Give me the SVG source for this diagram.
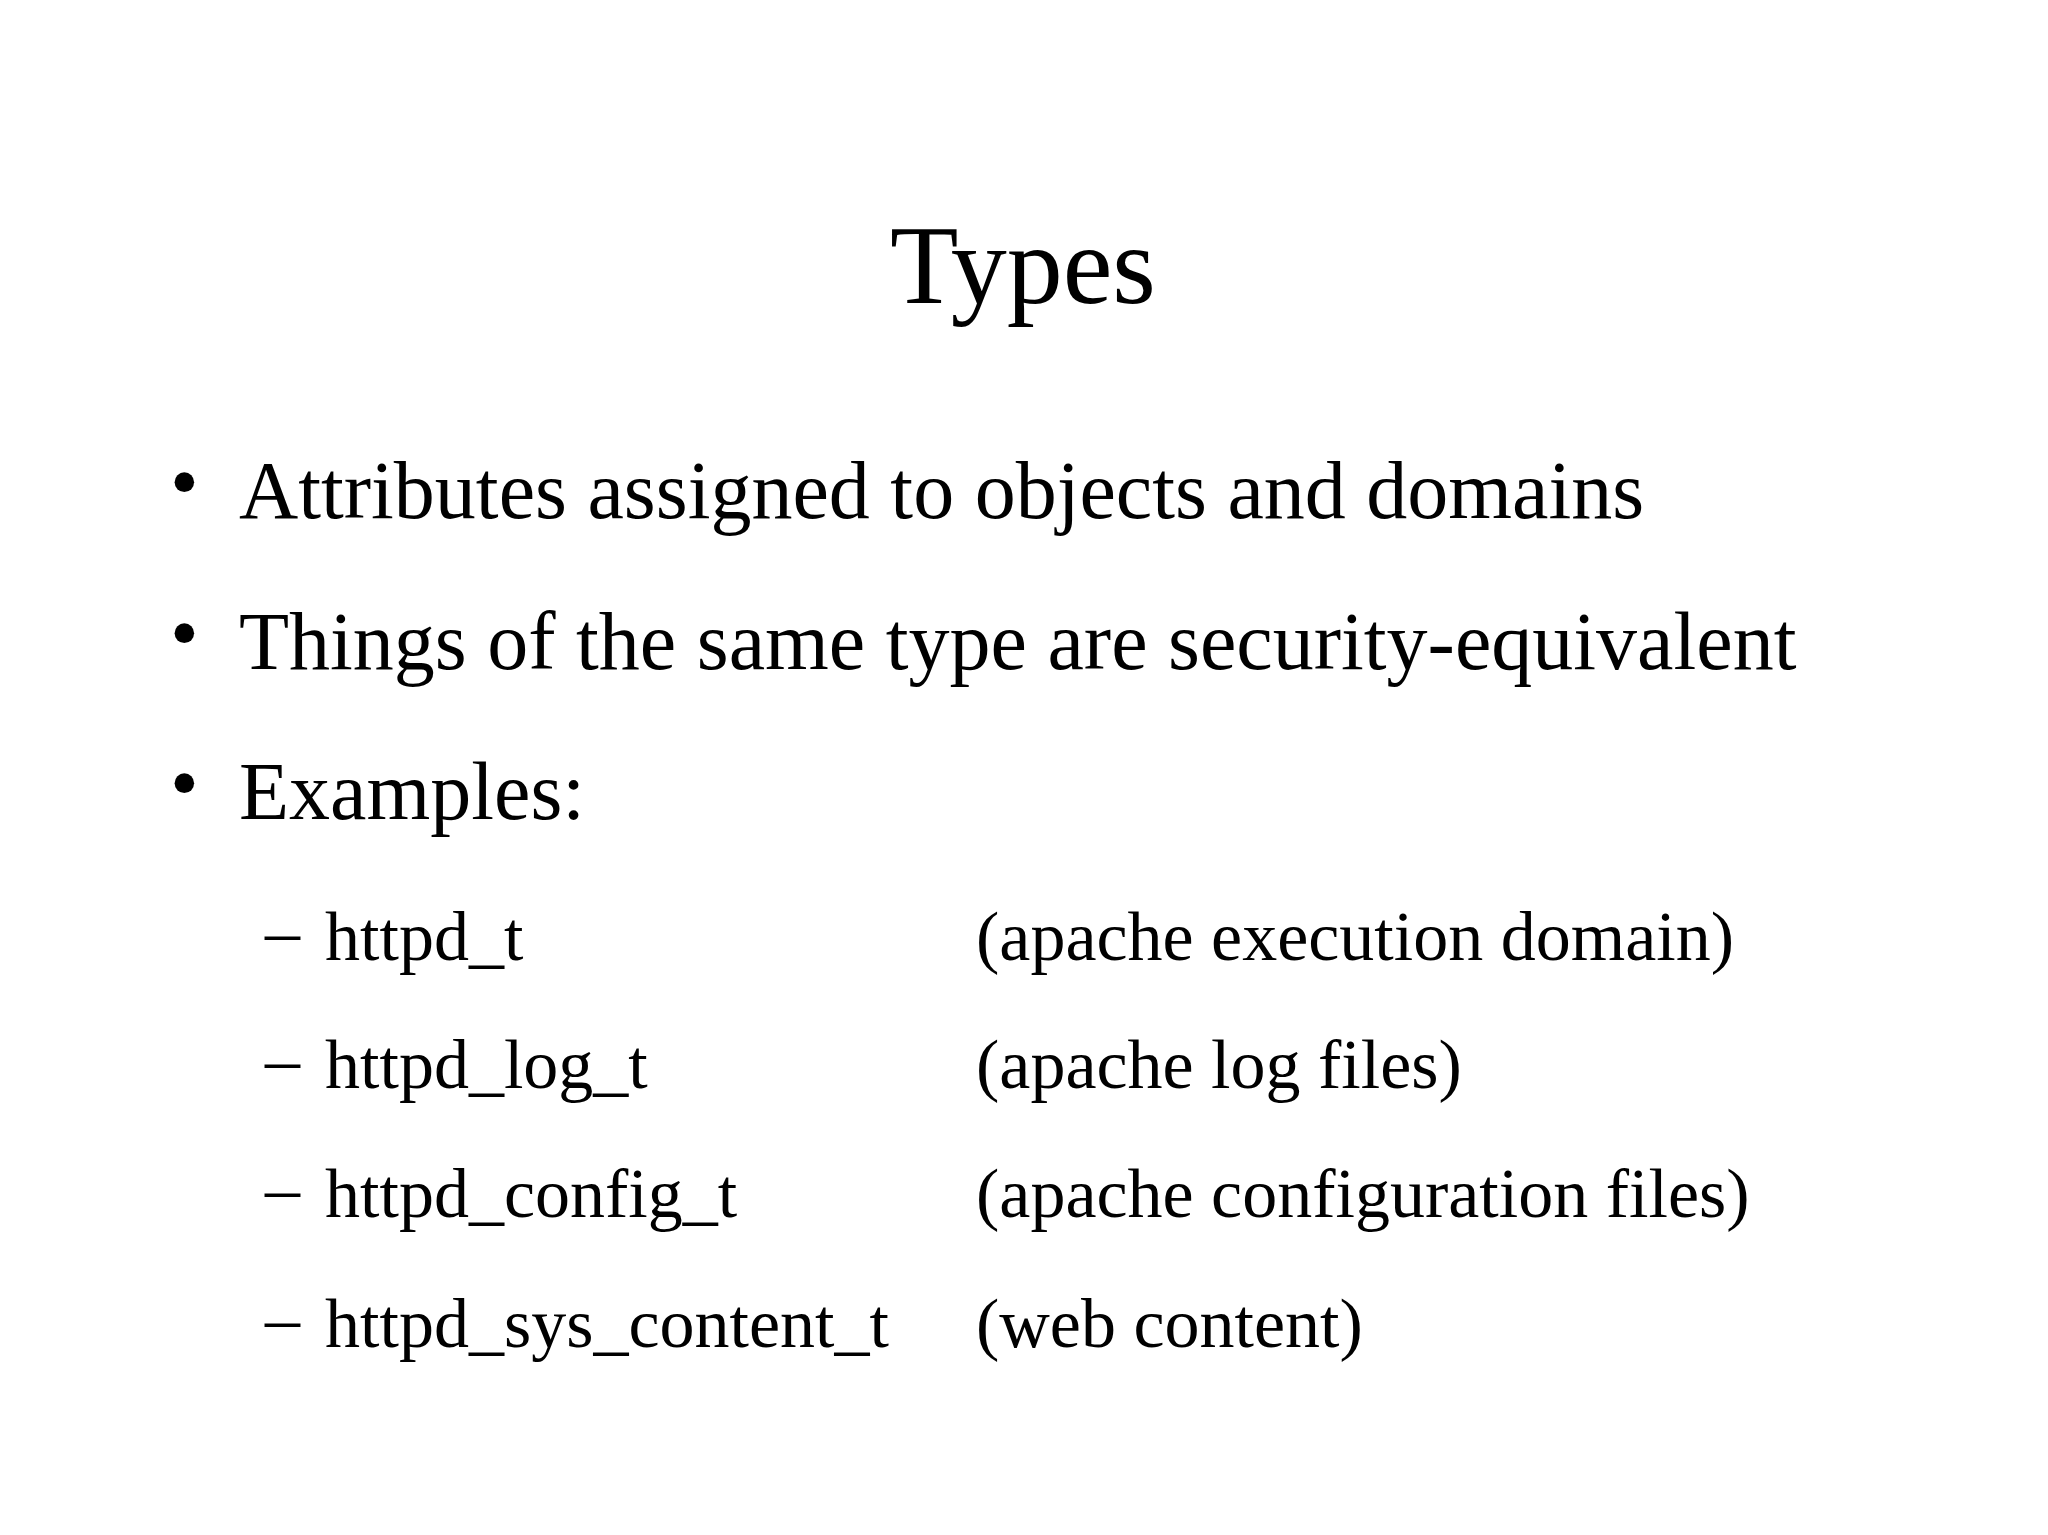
<svg xmlns="http://www.w3.org/2000/svg" width="2048" height="1535" viewBox="0 0 2048 1535">
<style>
text{font-family:"Liberation Serif","Times New Roman",serif;fill:#000}
.t{font-size:112px}
.b{font-size:82px}
.s{font-size:70px}
</style>
<rect width="2048" height="1535" fill="#fff"/>
<g id="title"><text class="t" x="1023" y="303" text-anchor="middle">Types</text></g>
<g id="bullets" class="b">
<text class="b" x="170" y="510">•</text><text class="b" x="239" y="518">Attributes assigned to objects and domains</text>
<text class="b" x="170" y="661">•</text><text class="b" x="239" y="669">Things of the same type are security-equivalent</text>
<text class="b" x="170" y="811">•</text><text class="b" x="239" y="819">Examples:</text>
</g>
<g id="examples">
<text class="s" x="265" y="955">–</text><text class="s" x="325" y="960">httpd_t</text><text class="s" x="976" y="960">(apache execution domain)</text>
<text class="s" x="265" y="1083">–</text><text class="s" x="325" y="1088">httpd_log_t</text><text class="s" x="976" y="1088">(apache log files)</text>
<text class="s" x="265" y="1212">–</text><text class="s" x="325" y="1217">httpd_config_t</text><text class="s" x="976" y="1217">(apache configuration files)</text>
<text class="s" x="265" y="1342">–</text><text class="s" x="325" y="1347">httpd_sys_content_t</text><text class="s" x="976" y="1347">(web content)</text>
</g>
</svg>
